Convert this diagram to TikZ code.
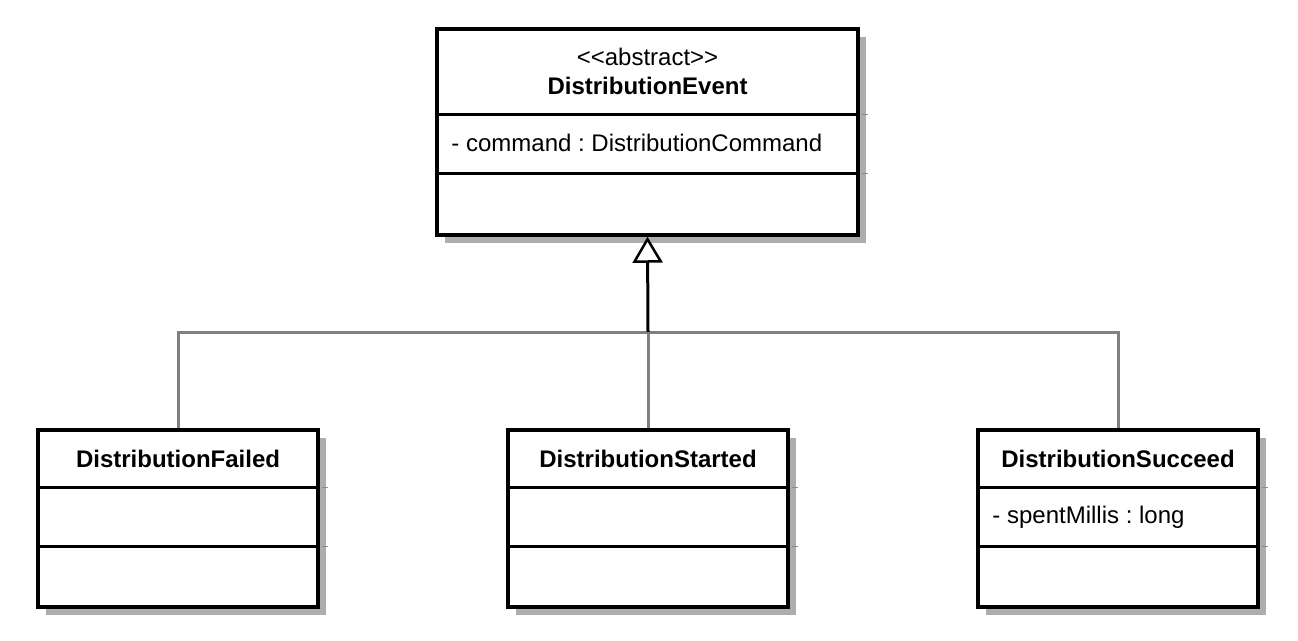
\documentclass[tikz,border=0pt]{standalone}
\usepackage{fontspec}
\setmainfont{Liberation Sans}
\usetikzlibrary{arrows.meta, shadows, calc}
\frenchspacing

\tikzset{
	classbox/.style={draw=black, line width=3.5pt, fill=white, inner sep=0pt,
		drop shadow={shadow xshift=8pt, shadow yshift=-8pt, fill=black!32, opacity=1}},
	divider/.style={line width=3.5pt, black},
	divtick/.style={line width=1.5pt, black!45},
	classname/.style={font=\bfseries\fontsize{24}{29}\selectfont, inner sep=0pt},
	member/.style={font=\fontsize{24}{29}\selectfont, anchor=west, inner sep=0pt},
	bus/.style={line width=3pt, black!50},
	inherit/.style={line width=3pt, black,
		-{Triangle[open, length=26pt, width=30pt, fill=white, line width=2.5pt]}},
}

\begin{document}
\begin{tikzpicture}[x=1pt, y=-1pt]
	\useasboundingbox (0,0) rectangle (1298,640);

	%% Abstract parent class
	\node [classbox, minimum width=421pt, minimum height=206pt] (event) at (647.5,132) {};
	\draw [divtick] ($(event.north east)+(2,87)$) -- ++(6,0);
	\draw [divtick] ($(event.north east)+(2,146)$) -- ++(6,0);
	\draw [divider] ($(event.north west)+(0,87)$) -- ($(event.north east)+(0,87)$);
	\draw [divider] ($(event.north west)+(0,146)$) -- ($(event.north east)+(0,146)$);
	\node [font=\fontsize{24}{29}\selectfont, inner sep=0pt] (eventstereo)
		at ($(event.north)+(0,30)$) {{<}{<}abstract{>}{>}};
	\node [classname] (eventname) at ($(event.north)+(0,59)$) {DistributionEvent};
	\node [member] (eventattr) at ($(event.north west)+(16,116)$) {- command : DistributionCommand};

	%% Subclasses
	\foreach \cname/\cx in {failed/178, started/648, succeed/1118} {
		\node [classbox, minimum width=280pt, minimum height=177pt] (\cname) at (\cx,518.5) {};
		\draw [divtick] ($(\cname.north east)+(2,59)$) -- ++(6,0);
		\draw [divtick] ($(\cname.north east)+(2,118)$) -- ++(6,0);
		\draw [divider] ($(\cname.north west)+(0,59)$) -- ($(\cname.north east)+(0,59)$);
		\draw [divider] ($(\cname.north west)+(0,118)$) -- ($(\cname.north east)+(0,118)$);
	}
	\node [classname] (failedname) at ($(failed.north)+(0,31)$) {DistributionFailed};
	\node [classname] (startedname) at ($(started.north)+(0,31)$) {DistributionStarted};
	\node [classname] (succeedname) at ($(succeed.north)+(0,31)$) {DistributionSucceed};
	\node [member] (succeedattr) at ($(succeed.north west)+(16,89)$) {- spentMillis : long};

	%% Generalisation connectors
	\coordinate (join) at (648,332);
	\draw [bus] (failed.north) |- (join) -| (succeed.north);
	\draw [bus] (started.north) -- (join);
	\draw [inherit] (join) -- (event.south);
\end{tikzpicture}
\end{document}
